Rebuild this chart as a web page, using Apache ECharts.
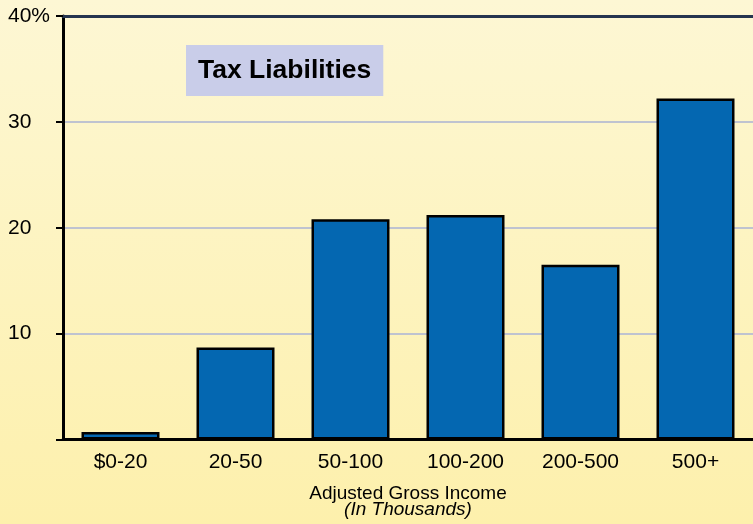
<!DOCTYPE html>
<html>
<head>
<meta charset="utf-8">
<script src="https://cdn.jsdelivr.net/npm/echarts@6/dist/echarts.min.js"></script>
<style>
html,body{margin:0;padding:0;}
#chart{width:753px;height:524px;}
</style>
</head>
<body>
<div id="chart"></div>
<script>
const categories = ['$0-20', '20-50', '50-100', '100-200', '200-500', '500+'];
const taxShare = [0.7, 8.7, 20.8, 21.2, 16.5, 32.2];
const yTicks = [0, 10, 20, 30, 40];
const chartTitle = 'Tax Liabilities';
const xName = 'Adjusted Gross Income';
const xSubName = '(In Thousands)';

const FONT = '"Liberation Sans", Arial, sans-serif';
const chart = echarts.init(document.getElementById('chart'));
chart.setOption({
  animation: false,
  backgroundColor: {
    type: 'linear', x: 0, y: 0, x2: 0, y2: 1,
    colorStops: [{offset: 0, color: '#fdf7d4'}, {offset: 1, color: '#fdf0ac'}]
  },
  textStyle: {fontFamily: FONT},
  title: {
    text: chartTitle,
    left: 186, top: 45,
    padding: [12, 12, 12, 12],
    backgroundColor: '#c9cde9',
    textStyle: {fontFamily: FONT, fontSize: 26.5, fontWeight: 'bold', color: '#000', lineHeight: 27}
  },
  grid: {left: 63, top: 16, width: 691, bottom: 84, containLabel: false},
  xAxis: [{
    type: 'category',
    data: categories,
    position: 'bottom',
    axisLine: {lineStyle: {color: '#000', width: 3}},
    axisTick: {show: false},
    axisLabel: {fontSize: 21, color: '#000', margin: 12, fontFamily: FONT},
    name: xName + '\n{i|' + xSubName + '}',
    nameLocation: 'middle',
    nameGap: 46,
    nameTextStyle: {
      fontSize: 19, color: '#000', lineHeight: 16, fontFamily: FONT,
      rich: {i: {fontSize: 19, fontStyle: 'italic', color: '#000', lineHeight: 16, fontFamily: FONT}}
    },
    z: 5
  }, {
    type: 'category',
    data: categories,
    position: 'top',
    axisLine: {lineStyle: {color: '#25354f', width: 3}},
    axisTick: {show: false},
    axisLabel: {show: false}
  }],
  yAxis: {
    type: 'value',
    min: 0, max: 40, interval: 10,
    axisLine: {show: true, lineStyle: {color: '#000', width: 3}},
    axisTick: {show: true, length: 7, lineStyle: {color: '#000', width: 2}},
    axisLabel: {
      fontSize: 21, color: '#000', align: 'left', margin: 55, fontFamily: FONT,
      formatter: function (v) {
        if (v === yTicks[0]) return '';
        if (v === yTicks[yTicks.length - 1]) return v + '%';
        return String(v);
      }
    },
    splitLine: {show: true, showMinLine: false, showMaxLine: false, lineStyle: {color: '#bfc3d0', width: 2}}
  },
  series: [{
    type: 'bar',
    data: taxShare,
    barWidth: 78,
    itemStyle: {color: '#0467b1', borderColor: '#000', borderWidth: 2.5},
    z: 3
  }]
});
</script>
</body>
</html>
